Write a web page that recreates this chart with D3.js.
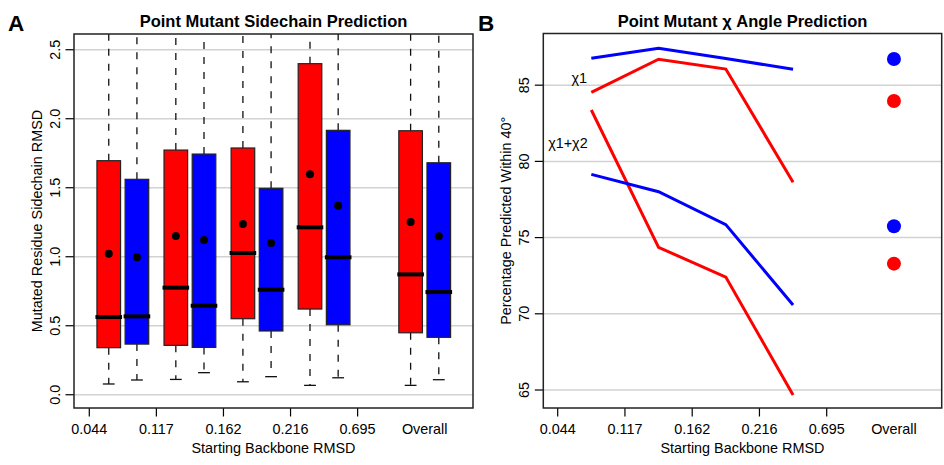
<!DOCTYPE html>
<html>
<head>
<meta charset="utf-8">
<script src="https://cdn.jsdelivr.net/npm/d3@7"></script>
<style>
  body { margin: 0; background: #fff; }
  text { font-family: "Liberation Sans", Arial, sans-serif; fill: #000; }
</style>
</head>
<body>
<svg id="chart" width="944" height="465"></svg>
<script>
// tick labels shared by both panels
const binLabels = ['0.044', '0.117', '0.162', '0.216', '0.695', 'Overall'];
const binTicks = [1, 2, 3, 4, 5];
const groupPos = [1.5, 2.5, 3.5, 4.5, 6];

// panel A: [lower whisker, q1, median, q3, upper whisker]
const redBox = [
  [0.078, 0.341, 0.563, 1.696, 3.0],
  [0.111, 0.358, 0.776, 1.773, 3.0],
  [0.094, 0.551, 1.027, 1.788, 3.0],
  [0.068, 0.621, 1.213, 2.399, 3.0],
  [0.068, 0.449, 0.872, 1.913, 3.0],
];
const blueBox = [
  [0.107, 0.367, 0.568, 1.561, 3.0],
  [0.160, 0.343, 0.645, 1.744, 3.0],
  [0.131, 0.462, 0.761, 1.496, 3.0],
  [0.123, 0.507, 0.996, 1.916, 3.0],
  [0.109, 0.416, 0.744, 1.681, 3.0],
];
const redMean = [1.022, 1.150, 1.237, 1.597, 1.251];
const blueMean = [0.996, 1.121, 1.099, 1.370, 1.148];
const yTicksA = [0, 0.5, 1, 1.5, 2, 2.5];

// panel B
const linePos = [1.5, 2.5, 3.5, 4.5];
const blueChi1 = [86.77, 87.42, 86.75, 86.04];
const redChi1 = [84.53, 86.70, 86.06, 78.63];
const redChi12 = [83.37, 74.36, 72.41, 64.67];
const blueChi12 = [79.15, 78.01, 75.85, 70.58];
const overallPos = 6;
const blueOverall = [86.72, 75.74];
const redOverall = [83.96, 73.29];
const yTicksB = [65, 70, 75, 80, 85];

const RED = '#ff0000';
const BLUE = '#0000ff';
const GRID = '#d2d2d2';
const FS = 14.4;

const svg = d3.select('#chart');

// common frame: grid, axes, titles
function drawFrame(g, x, y, yTicks, fmt, opts) {
  const [x0, x1] = x.range();
  const [y1, y0] = y.range();

  g.append('g')
    .selectAll('line')
    .data(yTicks)
    .join('line')
    .attr('x1', x0).attr('x2', x1)
    .attr('y1', (d) => y(d)).attr('y2', (d) => y(d))
    .attr('stroke', GRID)
    .attr('stroke-width', 1.5);

  // y axis
  g.append('g')
    .selectAll('line')
    .data(yTicks)
    .join('line')
    .attr('x1', x0 - 8.5).attr('x2', x0)
    .attr('y1', (d) => y(d)).attr('y2', (d) => y(d))
    .attr('stroke', '#000')
    .attr('stroke-width', 1.2);
  g.append('g')
    .selectAll('text')
    .data(yTicks)
    .join('text')
    .attr('transform', (d) => `translate(${x0 - 14},${y(d)}) rotate(-90)`)
    .attr('text-anchor', 'middle')
    .attr('font-size', FS)
    .text(fmt);

  // x axis
  g.append('g')
    .selectAll('line')
    .data(binTicks)
    .join('line')
    .attr('x1', (d) => x(d)).attr('x2', (d) => x(d))
    .attr('y1', y1).attr('y2', y1 + 8.5)
    .attr('stroke', '#000')
    .attr('stroke-width', 1.2);
  g.append('g')
    .selectAll('text')
    .data(binLabels)
    .join('text')
    .attr('x', (d, i) => x(i + 1))
    .attr('y', y1 + 25.5)
    .attr('text-anchor', 'middle')
    .attr('font-size', FS)
    .text((d) => d);

  g.append('text')
    .attr('x', (x0 + x1) / 2)
    .attr('y', 452.7)
    .attr('text-anchor', 'middle')
    .attr('font-size', FS)
    .text('Starting Backbone RMSD');

  g.append('text')
    .attr('transform', `translate(${x0 - 32},${(y0 + y1) / 2}) rotate(-90)`)
    .attr('text-anchor', 'middle')
    .attr('font-size', FS)
    .text(opts.ylabel);

  g.append('text')
    .attr('x', (x0 + x1) / 2)
    .attr('y', 27.3)
    .attr('text-anchor', 'middle')
    .attr('font-size', 16.5)
    .attr('font-weight', 'bold')
    .text(opts.title);

  g.append('text')
    .attr('x', opts.letterX)
    .attr('y', 31)
    .attr('font-size', 22.5)
    .attr('font-weight', 'bold')
    .text(opts.letter);
}

function drawBorder(g, x, y) {
  const [x0, x1] = x.range();
  const [y1, y0] = y.range();
  g.append('rect')
    .attr('x', x0).attr('y', y0)
    .attr('width', x1 - x0).attr('height', y1 - y0)
    .attr('fill', 'none')
    .attr('stroke', '#222')
    .attr('stroke-width', 1.5);
}

// ---------- panel A ----------
const xA = d3.scaleLinear().domain([0.772, 6.72]).range([74, 473]);
const yA = d3.scaleLinear().domain([-0.096, 2.614]).range([408, 34]);
const gA = svg.append('g');

drawFrame(gA, xA, yA, yTicksA, d3.format('.1f'), {
  title: 'Point Mutant Sidechain Prediction',
  ylabel: 'Mutated Residue Sidechain RMSD',
  letter: 'A',
  letterX: 8,
});

svg.append('clipPath')
  .attr('id', 'clipA')
  .append('rect')
  .attr('x', 74).attr('y', 34)
  .attr('width', 399).attr('height', 374);

const boxHalf = 0.176;
const boxOffset = 0.21;
const boxes = [];
groupPos.forEach((p, i) => {
  boxes.push({pos: p - boxOffset, s: redBox[i], mean: redMean[i], color: RED});
  boxes.push({pos: p + boxOffset, s: blueBox[i], mean: blueMean[i], color: BLUE});
});

const boxG = gA.append('g')
  .attr('clip-path', 'url(#clipA)')
  .selectAll('g')
  .data(boxes)
  .join('g');

// whiskers (dashed)
boxG.append('line')
  .attr('x1', (d) => xA(d.pos)).attr('x2', (d) => xA(d.pos))
  .attr('y1', (d) => yA(d.s[3])).attr('y2', (d) => yA(d.s[4]))
  .attr('stroke', '#111')
  .attr('stroke-width', 1.3)
  .attr('stroke-dasharray', '7,8');
boxG.append('line')
  .attr('x1', (d) => xA(d.pos)).attr('x2', (d) => xA(d.pos))
  .attr('y1', (d) => yA(d.s[1])).attr('y2', (d) => yA(d.s[0]))
  .attr('stroke', '#111')
  .attr('stroke-width', 1.3)
  .attr('stroke-dasharray', '7,8');
// staples
boxG.selectAll('.staple')
  .data((d) => [d.s[0], d.s[4]].map((v) => ({pos: d.pos, v})))
  .join('line')
  .attr('class', 'staple')
  .attr('x1', (d) => xA(d.pos - boxHalf / 2)).attr('x2', (d) => xA(d.pos + boxHalf / 2))
  .attr('y1', (d) => yA(d.v)).attr('y2', (d) => yA(d.v))
  .attr('stroke', '#111')
  .attr('stroke-width', 1.3);
// box
boxG.append('rect')
  .attr('x', (d) => xA(d.pos - boxHalf))
  .attr('y', (d) => yA(d.s[3]))
  .attr('width', (d) => xA(d.pos + boxHalf) - xA(d.pos - boxHalf))
  .attr('height', (d) => yA(d.s[1]) - yA(d.s[3]))
  .attr('fill', (d) => d.color)
  .attr('stroke', '#222')
  .attr('stroke-width', 1.2);
// median
boxG.append('line')
  .attr('x1', (d) => xA(d.pos - boxHalf) - 1.5)
  .attr('x2', (d) => xA(d.pos + boxHalf) + 1.5)
  .attr('y1', (d) => yA(d.s[2])).attr('y2', (d) => yA(d.s[2]))
  .attr('stroke', '#000')
  .attr('stroke-width', 4);
// mean
boxG.append('circle')
  .attr('cx', (d) => xA(d.pos))
  .attr('cy', (d) => yA(d.mean))
  .attr('r', 4)
  .attr('fill', '#000');

drawBorder(gA, xA, yA);

// ---------- panel B ----------
const xB = d3.scaleLinear().domain([0.786, 6.71]).range([543.3, 941.7]);
const yB = d3.scaleLinear().domain([63.82, 88.39]).range([408, 33.5]);
const gB = svg.append('g');

drawFrame(gB, xB, yB, yTicksB, (d) => d, {
  title: 'Point Mutant \u03c7 Angle Prediction',
  ylabel: 'Percentage Predicted Within 40\u00b0',
  letter: 'B',
  letterX: 478,
});

const series = [
  {vals: blueChi1, color: BLUE},
  {vals: redChi1, color: RED},
  {vals: redChi12, color: RED},
  {vals: blueChi12, color: BLUE},
];
const line = d3.line()
  .x((d, i) => xB(linePos[i]))
  .y((d) => yB(d));

gB.append('g')
  .selectAll('path')
  .data(series)
  .join('path')
  .attr('d', (d) => line(d.vals))
  .attr('fill', 'none')
  .attr('stroke', (d) => d.color)
  .attr('stroke-width', 3);

const dots = [
  ...blueOverall.map((v) => ({v, color: BLUE})),
  ...redOverall.map((v) => ({v, color: RED})),
];
gB.append('g')
  .selectAll('circle')
  .data(dots)
  .join('circle')
  .attr('cx', xB(overallPos))
  .attr('cy', (d) => yB(d.v))
  .attr('r', 7)
  .attr('fill', (d) => d.color);

gB.append('text')
  .attr('x', 587).attr('y', 82.7)
  .attr('text-anchor', 'end')
  .attr('font-size', FS)
  .text('\u03c71');
gB.append('text')
  .attr('x', 587.7).attr('y', 148.3)
  .attr('text-anchor', 'end')
  .attr('font-size', FS)
  .text('\u03c71+\u03c72');

drawBorder(gB, xB, yB);
</script>
</body>
</html>
